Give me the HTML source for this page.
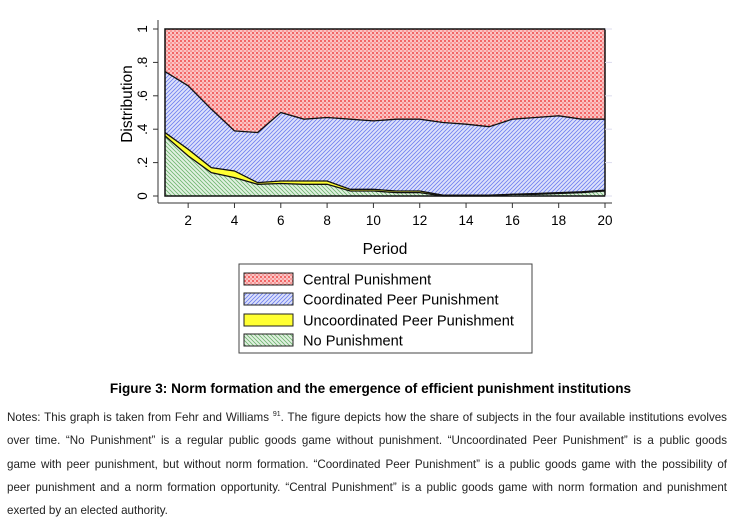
<!DOCTYPE html>
<html><head><meta charset="utf-8"><style>
body{margin:0;width:733px;height:530px;background:#fff;overflow:hidden;font-family:"Liberation Sans",sans-serif;position:relative}
svg{position:absolute;left:0;top:0}
.title{position:absolute;left:0;width:733px;top:381px;text-align:center;font-weight:bold;font-size:13.6px;color:#000;padding-left:8px;box-sizing:border-box}
.note{position:absolute;left:7px;width:720px;font-size:11.6px;color:#222;text-align:justify;text-align-last:justify;white-space:nowrap}
.note.last{text-align-last:left}
</style></head><body>
<svg width="733" height="375">
<defs>
<pattern id="pRed" width="4" height="4" patternUnits="userSpaceOnUse"><rect width="4" height="4" fill="#fbc4c4"/><rect x="0" y="0" width="2" height="2" fill="#f26666"/><rect x="2" y="2" width="2" height="2" fill="#f79a9a"/></pattern>
<pattern id="pBlue" width="4" height="4" patternUnits="userSpaceOnUse"><rect width="4" height="4" fill="#dde2fb"/><path d="M-1,5 L5,-1 M-1,1 L1,-1 M3,5 L5,3" stroke="#6f7ff0" stroke-width="0.8"/></pattern>
<pattern id="pGreen" width="4" height="4" patternUnits="userSpaceOnUse"><rect width="4" height="4" fill="#e2f1e2"/><path d="M-1,-1 L5,5 M3,-1 L5,1 M-1,3 L1,5" stroke="#6fb66f" stroke-width="0.8"/></pattern>
</defs>
<g id="plot"></g>
<g>
<rect x="239" y="264" width="293" height="89" fill="#fff" stroke="#444" stroke-width="1"/>
<rect x="244" y="273" width="49" height="12" fill="url(#pRed)" stroke="#222"/>
<text x="303" y="284.5" font-size="14.6">Central Punishment</text>
<rect x="244" y="293" width="49" height="12" fill="url(#pBlue)" stroke="#222"/>
<text x="303" y="304.5" font-size="14.6">Coordinated Peer Punishment</text>
<rect x="244" y="314" width="49" height="12" fill="#ffff33" stroke="#222"/>
<text x="303" y="325.5" font-size="14.6">Uncoordinated Peer Punishment</text>
<rect x="244" y="334" width="49" height="12" fill="url(#pGreen)" stroke="#222"/>
<text x="303" y="345.5" font-size="14.6">No Punishment</text>
</g>
</svg>
<div class="title">Figure 3: Norm formation and the emergence of efficient punishment institutions</div>
<div class="note" style="top:411px">Notes: This graph is taken from Fehr and Williams <sup style="font-size:7px">91</sup>. The figure depicts how the share of subjects in the four available institutions evolves</div>
<div class="note" style="top:434px">over time. “No Punishment” is a regular public goods game without punishment. “Uncoordinated Peer Punishment” is a public goods</div>
<div class="note" style="top:458px">game with peer punishment, but without norm formation. “Coordinated Peer Punishment” is a public goods game with the possibility of</div>
<div class="note" style="top:481px">peer punishment and a norm formation opportunity. “Central Punishment” is a public goods game with norm formation and punishment</div>
<div class="note last" style="top:504px">exerted by an elected authority.</div>
<script>
const periods=[1,2,3,4,5,6,7,8,9,10,11,12,13,14,15,16,17,18,19,20];
const noPunishment=[.36,.24,.14,.11,.07,.075,.07,.07,.03,.03,.02,.02,0,0,0,.01,.01,.015,.02,.03];
const uncoordinated=[.02,.04,.03,.04,.01,.015,.02,.02,.01,.01,.01,.01,.005,.005,.005,0,.005,.005,.005,.005];
const coordinated=[.365,.38,.35,.24,.30,.41,.37,.38,.42,.41,.43,.43,.435,.425,.41,.45,.455,.46,.435,.425];
const xTicks=[2,4,6,8,10,12,14,16,18,20];
const yTicks=[0,.2,.4,.6,.8,1];
const yTickLabels=["0",".2",".4",".6",".8","1"];
const X0=165,X1=605,Y0=196,Y1=29;
const sx=v=>X0+(v-1)/(19)*(X1-X0);
const sy=v=>Y0-v*(Y0-Y1);
const NS="http://www.w3.org/2000/svg";
const g=document.getElementById('plot');
function mk(t,a){const e=document.createElementNS(NS,t);for(const k in a)e.setAttribute(k,a[k]);g.appendChild(e);return e;}
const c1=periods.map((p,i)=>noPunishment[i]);
const c2=periods.map((p,i)=>c1[i]+uncoordinated[i]);
const c3=periods.map((p,i)=>c2[i]+coordinated[i]);
const c4=periods.map(()=>1);
const zero=periods.map(()=>0);
function area(lo,hi,fill,name){
 let d='M'+periods.map((p,i)=>sx(p)+','+sy(hi[i])).join(' L');
 for(let i=periods.length-1;i>=0;i--)d+=' L'+sx(periods[i])+','+sy(lo[i]);
 const e=mk('path',{d:d+'Z',fill:fill,stroke:'none'});
 
 
}
area(c3,c4,'url(#pRed)','area-central-punishment');
area(c2,c3,'url(#pBlue)','area-coordinated-peer-punishment');
area(c1,c2,'#ffff33','area-uncoordinated-peer-punishment');
area(zero,c1,'url(#pGreen)','area-no-punishment');
[c1,c2,c3].forEach((c,j)=>{
 const e=mk('polyline',{points:periods.map((p,i)=>sx(p)+','+sy(c[i])).join(' '),fill:'none',stroke:'#111','stroke-width':1.3});
 
 
});
const box=mk('rect',{x:X0,y:Y1,width:X1-X0,height:Y0-Y1,fill:'none',stroke:'#111','stroke-width':1.5});


mk('line',{x1:158,y1:20,x2:158,y2:203,stroke:'#333'});
mk('line',{x1:158,y1:203,x2:612,y2:203,stroke:'#333'});
xTicks.forEach(t=>{
 mk('line',{x1:sx(t),y1:203,x2:sx(t),y2:208,stroke:'#333'});
 const e=mk('text',{x:sx(t),y:225,'font-size':13.5,'text-anchor':'middle'});e.textContent=t;
 
 
});
yTicks.forEach((t,i)=>{
 mk('line',{x1:153,y1:sy(t),x2:158,y2:sy(t),stroke:'#333'});
 mk('line',{x1:X1,y1:sy(t),x2:612,y2:sy(t),stroke:'#dde'});
 const e=mk('text',{x:147,y:sy(t),'font-size':13.5,'text-anchor':'middle',transform:`rotate(-90 147 ${sy(t)})`});e.textContent=yTickLabels[i];
 
 
});
const yt=mk('text',{x:132,y:104,'font-size':15.5,'text-anchor':'middle',transform:'rotate(-90 132 104)'});yt.textContent='Distribution';


const xt=mk('text',{x:385,y:254,'font-size':15.5,'text-anchor':'middle'});xt.textContent='Period';


</script>
</body></html>
